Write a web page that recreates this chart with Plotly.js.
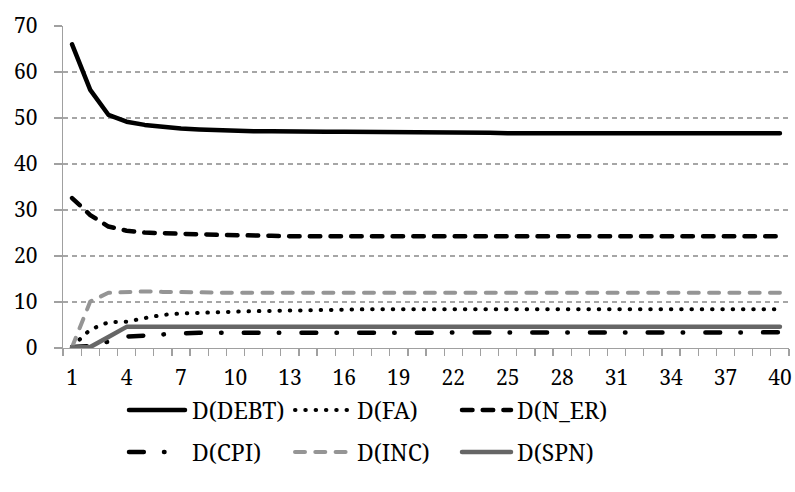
<!DOCTYPE html>
<html>
<head>
<meta charset="utf-8">
<script src="https://cdn.plot.ly/plotly-3.0.1.min.js"></script>
<style>
html,body{margin:0;padding:0;background:#fff;}
#chart{width:795px;height:492px;}
#chart .js-line, #chart .shapelayer path { stroke-linecap: round !important; stroke-linejoin: round !important; }
</style>
</head>
<body>
<div id="chart"></div>
<script>
// ---- data ----
const periods = Array.from({length: 40}, (_, i) => i + 1);
const xTickLabels = [1, 4, 7, 10, 13, 16, 19, 22, 25, 28, 31, 34, 37, 40];
const seriesNames = ["D(DEBT)", "D(FA)", "D(N_ER)", "D(CPI)", "D(INC)", "D(SPN)"];

const debt = [66.0, 56.1, 50.7, 49.2, 48.5, 48.0, 47.7, 47.5, 47.3, 47.2,
              47.1, 47.1, 47.0, 47.0, 47.0, 47.0, 47.0, 47.0, 47.0, 47.0,
              47.0, 47.0, 47.0, 46.8, 46.7, 46.7, 46.7, 46.7, 46.7, 46.7,
              46.7, 46.7, 46.7, 46.7, 46.7, 46.7, 46.7, 46.7, 46.7, 46.7];
const fa = [0.3, 4.0, 5.6, 5.7, 6.5, 7.2, 7.5, 7.7, 7.8, 7.9,
            8.0, 8.1, 8.2, 8.2, 8.3, 8.3, 8.4, 8.4, 8.4, 8.4,
            8.4, 8.4, 8.4, 8.4, 8.4, 8.4, 8.4, 8.4, 8.4, 8.4,
            8.4, 8.4, 8.4, 8.4, 8.4, 8.4, 8.4, 8.4, 8.4, 8.4];
const n_er = [32.6, 28.9, 26.4, 25.5, 25.1, 24.9, 24.8, 24.7, 24.6, 24.6,
              24.5, 24.4, 24.3, 24.3, 24.3, 24.3, 24.3, 24.3, 24.3, 24.3,
              24.3, 24.3, 24.3, 24.3, 24.3, 24.3, 24.3, 24.3, 24.3, 24.3,
              24.3, 24.3, 24.3, 24.3, 24.3, 24.3, 24.3, 24.3, 24.3, 24.3];
const cpi = [0.2, 0.4, 1.4, 2.5, 2.7, 3.0, 3.2, 3.3, 3.3, 3.4,
             3.4, 3.4, 3.4, 3.4, 3.4, 3.4, 3.4, 3.4, 3.4, 3.4,
             3.4, 3.4, 3.4, 3.4, 3.4, 3.4, 3.4, 3.4, 3.4, 3.4,
             3.4, 3.4, 3.4, 3.4, 3.4, 3.4, 3.4, 3.4, 3.4, 3.4];
const inc = [0.2, 10.1, 12.0, 12.2, 12.3, 12.2, 12.1, 12.0, 12.0, 12.0,
             12.0, 12.0, 12.0, 12.0, 12.0, 12.0, 12.0, 12.0, 12.0, 12.0,
             12.0, 12.0, 12.0, 12.0, 12.0, 12.0, 12.0, 12.0, 12.0, 12.0,
             12.0, 12.0, 12.0, 12.0, 12.0, 12.0, 12.0, 12.0, 12.0, 12.0];
const spn = [0.1, 0.2, 2.4, 4.6, 4.6, 4.6, 4.6, 4.6, 4.6, 4.6,
             4.6, 4.6, 4.6, 4.6, 4.6, 4.6, 4.6, 4.6, 4.6, 4.6,
             4.6, 4.6, 4.6, 4.6, 4.6, 4.6, 4.6, 4.6, 4.6, 4.6,
             4.6, 4.6, 4.6, 4.6, 4.6, 4.6, 4.6, 4.6, 4.6, 4.6];

const seriesValues = [debt, fa, n_er, cpi, inc, spn];

// ---- styles (dashes sized for round line caps) ----
const styles = [
  {color: "#000000", width: 4.5, dash: "solid"},
  {color: "#000000", width: 4, dash: "0.5px,9.8px"},
  {color: "#000000", width: 4.5, dash: "10.5px,10.2px"},
  {color: "#000000", width: 4.5, dash: "14.8px,20.2px,0.5px,22.2px"},
  {color: "#959595", width: 4, dash: "10px,10.3px"},
  {color: "#666666", width: 4.5, dash: "solid"}
];

const FONT = "Noto Serif";

const traces = seriesNames.map((name, i) => ({
  type: "scatter", mode: "lines", name: name,
  x: periods, y: seriesValues[i],
  line: {color: styles[i].color, width: styles[i].width, dash: styles[i].dash},
  showlegend: false, hoverinfo: "skip"
}));

const L = 63, R = 789, T = 26, B = 348;
const px = v => (v - L) / (R - L);
const py = v => (B - v) / (B - T);

// manual legend: 3 columns x 2 rows
const colStart = [129, 295, 462];
const colLineLen = [56, 53, 49];
const rowY = [410, 452];
const textX = [190, 355, 515];
const shapes = [], annotations = [];
seriesNames.forEach((name, i) => {
  const c = i % 3, r = Math.floor(i / 3);
  const x0 = colStart[c], y = rowY[r];
  shapes.push({type: "line", xref: "paper", yref: "paper",
    x0: px(x0), x1: px(x0 + colLineLen[c]), y0: py(y), y1: py(y),
    line: {color: styles[i].color, width: styles[i].width, dash: styles[i].dash}});
  annotations.push({xref: "paper", yref: "paper", x: px(textX[c]), y: py(y),
    xanchor: "left", yanchor: "middle", showarrow: false, text: name,
    font: {family: FONT, size: 23, color: "#000"}});
});

const axisFont = {family: FONT, size: 21, color: "#000"};

const layout = {
  width: 795, height: 492,
  margin: {l: L, r: 795 - R, t: T, b: 492 - B, pad: 0},
  paper_bgcolor: "#fff", plot_bgcolor: "#fff",
  font: {family: FONT},
  showlegend: false,
  xaxis: {
    range: [0.5, 40.5], tickmode: "array", tickvals: xTickLabels,
    ticktext: xTickLabels.map(String), ticks: "", showgrid: false, zeroline: false,
    showline: true, linecolor: "#a0a0a0", linewidth: 1.3,
    tickfont: axisFont, ticklabelstandoff: 10,
    minor: {ticks: "outside", tickmode: "linear", tick0: 0.5, dtick: 1, ticklen: 7,
            tickcolor: "#a0a0a0", tickwidth: 1.3, showgrid: false}
  },
  yaxis: {
    range: [0, 70], tickmode: "linear", tick0: 0, dtick: 10,
    ticks: "outside", ticklen: 8, tickcolor: "#a0a0a0", tickwidth: 1.3,
    showline: true, linecolor: "#a0a0a0", linewidth: 1.3,
    showgrid: true, gridcolor: "#a6a6a6", gridwidth: 1.2, griddash: "5px,4px",
    zeroline: false, tickfont: axisFont, ticklabelstandoff: 12
  },
  shapes: shapes,
  annotations: annotations
};

Plotly.newPlot("chart", traces, layout, {displayModeBar: false, staticPlot: true});
</script>
</body>
</html>
